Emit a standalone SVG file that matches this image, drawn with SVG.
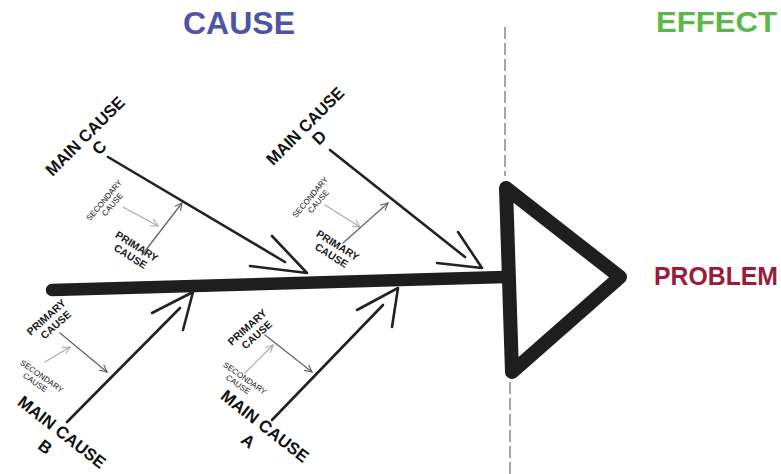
<svg xmlns="http://www.w3.org/2000/svg" width="781" height="474" viewBox="0 0 781 474">
<style>
  .hdr{font-family:"Liberation Sans",Arial,sans-serif;font-weight:bold;}
  .main{font-family:"Liberation Sans",Arial,sans-serif;font-weight:bold;font-size:17px;fill:#111;text-anchor:middle;}
  .pri{font-family:"Liberation Sans",Arial,sans-serif;font-weight:bold;font-size:10.5px;fill:#1a1a1a;text-anchor:middle;}
  .sec{font-family:"Liberation Sans",Arial,sans-serif;font-size:8px;fill:#111;text-anchor:middle;}
  .bone{fill:none;stroke:#222;stroke-width:2.6;stroke-linecap:round;stroke-linejoin:round;}
  .parr{fill:none;stroke:#666;stroke-width:1.3;stroke-linecap:round;}
  .sarr{fill:none;stroke:#aaa;stroke-width:1.2;stroke-linecap:round;}
  .dash{fill:none;stroke:#888;stroke-width:1.5;stroke-dasharray:12 4;}
</style>
<defs>
  <marker id="mp" viewBox="0 0 10 10" refX="9" refY="5" markerWidth="9" markerHeight="9" markerUnits="userSpaceOnUse" orient="auto">
    <path d="M1,1 L9,5 L1,9" fill="none" stroke="#666" stroke-width="1.3"/>
  </marker>
  <marker id="ms" viewBox="0 0 10 10" refX="9" refY="5" markerWidth="9" markerHeight="9" markerUnits="userSpaceOnUse" orient="auto">
    <path d="M1,1 L9,5 L1,9" fill="none" stroke="#aaa" stroke-width="1.2"/>
  </marker>
</defs>
<rect width="781" height="474" fill="#fff"/>

<g id="divider">
  <line class="dash" x1="505" y1="27" x2="505" y2="176"/>
  <line class="dash" x1="510" y1="382" x2="510" y2="474"/>
</g>

<g id="title-cause"><text class="hdr" x="183" y="34" font-size="32" fill="#5054a4" textLength="112" lengthAdjust="spacingAndGlyphs">CAUSE</text></g>
<g id="title-effect"><text class="hdr" x="656" y="32" font-size="30" fill="#5cb947" textLength="121" lengthAdjust="spacingAndGlyphs">EFFECT</text></g>

<g id="connectors">
  <line x1="52" y1="290" x2="505" y2="277" stroke="#1e1e1e" stroke-width="12.5" stroke-linecap="round"/>
  <!-- main bone C -->
  <line class="bone" x1="108" y1="157" x2="285" y2="262"/>
  <polyline class="bone" points="272,236 307,273 250,266"/>
  <!-- main bone D -->
  <line class="bone" x1="330" y1="150" x2="465" y2="257"/>
  <polyline class="bone" points="458,232 482,268 437,263"/>
  <!-- main bone B -->
  <line class="bone" x1="67" y1="422" x2="180" y2="308"/>
  <polyline class="bone" points="152,313 193,292 183,330"/>
  <!-- main bone A -->
  <line class="bone" x1="272" y1="420" x2="383" y2="305"/>
  <polyline class="bone" points="357,310 398,288 392,327"/>
  <!-- sub arrows C -->
  <line class="sarr" x1="123" y1="207" x2="158" y2="226" marker-end="url(#ms)"/>
  <line class="parr" x1="142" y1="255" x2="182" y2="203" marker-end="url(#mp)"/>
  <!-- sub arrows D -->
  <line class="sarr" x1="325" y1="205" x2="360" y2="227" marker-end="url(#ms)"/>
  <line class="parr" x1="343" y1="243" x2="388" y2="203" marker-end="url(#mp)"/>
  <!-- sub arrows B -->
  <line class="parr" x1="60" y1="333" x2="107" y2="372" marker-end="url(#mp)"/>
  <line class="sarr" x1="45" y1="362" x2="70" y2="347" marker-end="url(#ms)"/>
  <!-- sub arrows A -->
  <line class="parr" x1="265" y1="335" x2="312" y2="372" marker-end="url(#mp)"/>
  <line class="sarr" x1="245" y1="373" x2="273" y2="345" marker-end="url(#ms)"/>
</g>

<g id="node-head">
  <polygon points="506,188 620,277 512,372" fill="none" stroke="#1e1e1e" stroke-width="14" stroke-linejoin="round"/>
</g>
<g id="node-problem"><text class="hdr" x="654" y="285" font-size="25" fill="#9b1b3a" textLength="124" lengthAdjust="spacingAndGlyphs">PROBLEM</text></g>

<g id="node-main-c" transform="translate(85,136) rotate(-45)">
  <text class="main" x="0" y="6" textLength="104" lengthAdjust="spacingAndGlyphs">MAIN CAUSE</text>
  <text class="main" x="2" y="24">C</text>
</g>
<g id="node-main-d" transform="translate(305,126) rotate(-45)">
  <text class="main" x="0" y="6" textLength="102" lengthAdjust="spacingAndGlyphs">MAIN CAUSE</text>
  <text class="main" x="2" y="24">D</text>
</g>
<g id="node-main-b" transform="translate(62,432) rotate(38)">
  <text class="main" x="0" y="6" textLength="106" lengthAdjust="spacingAndGlyphs">MAIN CAUSE</text>
  <text class="main" x="-4" y="28">B</text>
</g>
<g id="node-main-a" transform="translate(265,426) rotate(38)">
  <text class="main" x="0" y="6" textLength="106" lengthAdjust="spacingAndGlyphs">MAIN CAUSE</text>
  <text class="main" x="-4" y="28">A</text>
</g>

<g id="node-sec-c" transform="translate(104,200) rotate(-50)">
  <text class="sec" x="0" y="3">SECONDARY</text>
  <text class="sec" x="2" y="12">CAUSE</text>
</g>
<g id="node-pri-c" transform="translate(137,246) rotate(32)">
  <text class="pri" x="0" y="4">PRIMARY</text>
  <text class="pri" x="0" y="16">CAUSE</text>
</g>
<g id="node-sec-d" transform="translate(310,197) rotate(-50)">
  <text class="sec" x="0" y="3">SECONDARY</text>
  <text class="sec" x="2" y="12">CAUSE</text>
</g>
<g id="node-pri-d" transform="translate(338,245) rotate(32)">
  <text class="pri" x="0" y="4">PRIMARY</text>
  <text class="pri" x="0" y="16">CAUSE</text>
</g>
<g id="node-pri-b" transform="translate(46,317) rotate(-42)">
  <text class="pri" x="0" y="4">PRIMARY</text>
  <text class="pri" x="2" y="16">CAUSE</text>
</g>
<g id="node-sec-b" transform="translate(42,376) rotate(35)">
  <text class="sec" x="0" y="3">SECONDARY</text>
  <text class="sec" x="-2" y="12">CAUSE</text>
</g>
<g id="node-pri-a" transform="translate(247,327) rotate(-42)">
  <text class="pri" x="0" y="4">PRIMARY</text>
  <text class="pri" x="2" y="16">CAUSE</text>
</g>
<g id="node-sec-a" transform="translate(245,378) rotate(35)">
  <text class="sec" x="0" y="3">SECONDARY</text>
  <text class="sec" x="-2" y="12">CAUSE</text>
</g>
</svg>
